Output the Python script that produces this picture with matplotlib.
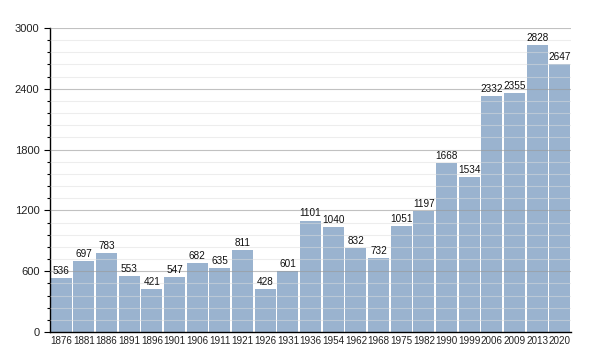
import matplotlib.pyplot as plt
from matplotlib.ticker import MultipleLocator

plt.rcParams["font.family"] = ["Liberation Sans", "DejaVu Sans"]

years = ["1876", "1881", "1886", "1891", "1896", "1901", "1906", "1911", "1921",
         "1926", "1931", "1936", "1954", "1962", "1968", "1975", "1982", "1990",
         "1999", "2006", "2009", "2013", "2020"]
population = [536, 697, 783, 553, 421, 547, 682, 635, 811, 428, 601, 1101, 1040,
              832, 732, 1051, 1197, 1668, 1534, 2332, 2355, 2828, 2647]

BAR_COLOR = "#9ab3cf"

fig = plt.figure(figsize=(6, 3.5), dpi=100)
ax = fig.add_axes([0.083, 0.051, 0.869, 0.869])

x = list(range(len(years)))
ax.bar(x, population, width=0.93, color=BAR_COLOR, zorder=1)
for xi, v in zip(x, population):
    ax.text(xi, v + 20, str(v), ha="center", va="bottom", fontsize=7.2,
            color="#111111", zorder=3)

ax.set_xlim(-0.5, len(years) - 0.5)
ax.set_ylim(0, 3000)
ax.set_xticks(x)
ax.set_xticklabels(years, fontsize=7.1, color="#222222")
ax.yaxis.set_major_locator(MultipleLocator(600))
ax.yaxis.set_minor_locator(MultipleLocator(120))
ax.tick_params(axis="y", labelsize=8, length=4, width=0.8, labelcolor="#222222")
ax.tick_params(axis="y", which="minor", length=2.5, width=0.8)
ax.tick_params(axis="x", length=0, pad=3)

ax.grid(axis="y", which="major", color="#999999", linewidth=0.8, alpha=0.6, zorder=2)
ax.grid(axis="y", which="minor", color="#dddddd", linewidth=0.8, alpha=0.5, zorder=2)
ax.set_axisbelow(False)
for s in ["top", "right"]:
    ax.spines[s].set_visible(False)
ax.spines["left"].set_linewidth(1.0)
ax.spines["bottom"].set_linewidth(1.0)

fig.savefig("out.png", dpi=100)
